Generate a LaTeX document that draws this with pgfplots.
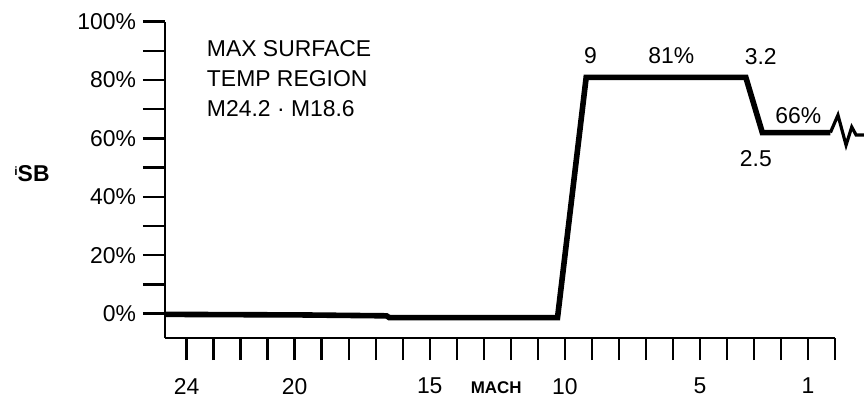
\documentclass[border=0pt]{standalone}
\usepackage{fontspec}
\setmainfont{Liberation Sans}
\usepackage{pgfplots}
\pgfplotsset{compat=1.18}
\begin{document}
\begin{tikzpicture}
\useasboundingbox (-82.5bp,-31bp) rectangle (349.5bp,169bp);
\begin{axis}[
  at={(0,0)}, anchor=south west,
  scale only axis, width=335bp, height=158.15bp,
  x dir=reverse, xmin=0, xmax=24.8, ymin=-8.4, ymax=100,
  axis x line=bottom, axis y line=left,
  axis line style={-, line width=1bp, black},
  clip=false,
  tick align=outside,
  major tick length=11bp, minor tick length=11bp,
  every tick/.style={black, line width=1.2bp},
  every minor tick/.style={black, line width=1.2bp},
  xtick={24,20,15,10,5,1},
  xticklabels={24,20,15,10,5,1},
  minor xtick={0,2,3,4,6,7,8,9,11,12,13,14,16,17,18,19,21,22,23},
  ytick={0,20,40,60,80,100},
  yticklabels={0\%,20\%,40\%,60\%,80\%,100\%},
  minor ytick={10,30,50,70,90},
  /pgf/number format/assume math mode=true,
  tick label style={font=\fontsize{11.5}{13}\selectfont},
  xticklabel style={yshift=-5.5bp},
]
\addplot[line width=2.8bp, black, line join=miter] coordinates {
  (24.8,-0.3) (19.7,-0.5) (16.6,-0.8) (16.5,-1.4) (10.27,-1.4)
  (9.21,80.9) (3.3,80.9) (2.69,62.0) (0.17,62.0)
};
\addplot[line width=1.6bp, black] coordinates {
  (0.17,62.0) (-0.11,68.0) (-0.41,57.7) (-0.62,63.9) (-0.78,61.2) (-1.08,61.2)
};
\node[anchor=base west, inner sep=0pt, font=\fontsize{11.5}{13}\selectfont] at (axis cs:23.26,88.0) {MAX SURFACE};
\node[anchor=base west, inner sep=0pt, font=\fontsize{11.5}{13}\selectfont] at (axis cs:23.26,77.7) {TEMP REGION};
\node[anchor=base west, inner sep=0pt, font=\fontsize{11.5}{13}\selectfont] at (axis cs:23.26,67.4) {M24.2 · M18.6};
\node[anchor=base, inner sep=0pt, font=\fontsize{11.5}{13}\selectfont] at (axis cs:9.05,85.7) {9};
\node[anchor=base, inner sep=0pt, font=\fontsize{11.5}{13}\selectfont] at (axis cs:6.06,85.7) {81\%};
\node[anchor=base, inner sep=0pt, font=\fontsize{11.5}{13}\selectfont] at (axis cs:2.75,85.2) {3.2};
\node[anchor=base, inner sep=0pt, font=\fontsize{11.5}{13}\selectfont] at (axis cs:1.36,65.2) {66\%};
\node[anchor=base, inner sep=0pt, font=\fontsize{11.5}{13}\selectfont] at (axis cs:2.93,50.3) {2.5};
\node[inner sep=0pt, font=\bfseries\fontsize{8.5}{10}\selectfont] at (axis cs:12.54,-25.5) {MACH};
\node[inner sep=0pt, font=\bfseries\fontsize{11.5}{13}\selectfont] at (axis cs:24.8,48.1) [xshift=-66.5bp] {\raisebox{0.45ex}{\fontsize{6}{7}\selectfont i}SB};
\end{axis}
\end{tikzpicture}
\end{document}
